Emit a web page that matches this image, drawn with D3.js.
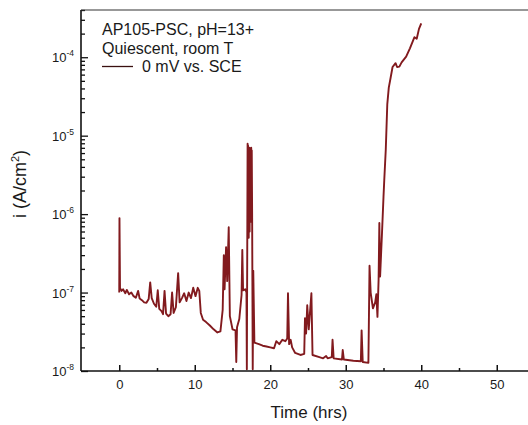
<!DOCTYPE html>
<html>
<head>
<meta charset="utf-8">
<script src="https://cdn.jsdelivr.net/npm/d3@7"></script>
<style>
  body { margin: 0; background: #fff; }
  text { font-family: "Liberation Sans", Arial, sans-serif; fill: #1a1a1a; }
</style>
</head>
<body>
<svg width="528" height="425"></svg>
<script>
const hours = [
  0, 0.03, 0.1, 0.3, 0.5, 0.8, 1.0, 1.3, 1.6, 1.9, 2.2, 2.5, 2.7, 3.0, 3.3, 3.6, 3.9, 4.1, 4.3, 4.6,
  4.9, 5.1, 5.3, 5.6, 5.8, 6.0, 6.2, 6.5, 6.8, 7.0, 7.2, 7.5, 7.8, 8.0, 8.3, 8.6, 8.9, 9.2, 9.5, 9.8,
  10.1, 10.4, 10.6, 10.8, 11.1, 11.5, 12.0, 12.5, 13.0, 13.4, 13.7, 13.85, 13.95, 14.15, 14.3, 14.5,
  14.65, 15.0, 15.4, 15.5, 15.6, 15.9, 16.2, 16.3, 16.4, 16.7, 16.85, 16.9, 17.0, 17.03, 17.06, 17.09,
  17.12, 17.15, 17.18, 17.21, 17.24, 17.27, 17.3, 17.33, 17.36, 17.39, 17.42, 17.45, 17.48, 17.51,
  17.55, 17.6, 17.68, 17.75, 17.9, 18.5, 19.0, 19.5, 20.0, 20.5,
  20.8, 21.2, 21.6, 22.0, 22.25, 22.35, 22.5, 22.7, 22.9, 23.3, 24.0, 24.5, 24.6, 24.75, 24.9, 25.1,
  25.45, 25.6, 26.5, 27.0, 27.4, 27.6, 28.15, 28.25, 28.4, 29.5, 29.6, 29.75, 31.0, 32.0, 32.1, 32.25,
  33.0, 33.15, 33.3, 33.6, 33.9, 34.05, 34.2, 34.35, 34.45, 34.55, 34.8, 35.0, 35.1, 35.3, 35.5, 35.7,
  35.9, 36.2, 36.6, 36.8, 37.1, 37.4, 38.0, 38.5, 39.1, 39.4, 39.7, 40.0
];
const current = [
  1.0e-7, 8.9e-7, 1.15e-7, 1.05e-7, 1.1e-7, 9.8e-8, 1.08e-7, 9.5e-8, 1.0e-7, 9.0e-8, 8.6e-8, 1.05e-7, 8.4e-8, 8.0e-8, 7.5e-8, 7.4e-8, 8.3e-8, 1.35e-7, 8.5e-8, 7.2e-8,
  6.6e-8, 1.07e-7, 6.2e-8, 5.8e-8, 5.3e-8, 1.05e-7, 5.4e-8, 5.0e-8, 5.3e-8, 1.0e-7, 5.5e-8, 6.5e-8, 1.77e-7, 7.5e-8, 8.5e-8, 9.8e-8, 7.8e-8, 1.0e-7, 8.5e-8, 1.15e-7,
  9.0e-8, 1.15e-7, 1.05e-7, 5.5e-8, 4.5e-8, 4.2e-8, 3.8e-8, 3.4e-8, 3.1e-8, 3.2e-8, 6.0e-8, 3.0e-7, 1.1e-7, 3.8e-7, 1.4e-7, 6.8e-7,
  5.0e-8, 3.4e-8, 3.3e-8, 1.3e-8, 3.6e-8, 4.6e-8, 9.3e-8, 3.5e-7, 1.07e-7, 1.1e-7, 1.0e-7, 1.05e-8, 7.9e-6, 6.0e-7, 7.5e-6, 9.0e-7,
  6.5e-6, 5.0e-7, 6.0e-6, 1.0e-6, 7.0e-6, 6.0e-7, 6.8e-6, 1.5e-6, 6.5e-6, 8.0e-7, 6.9e-6, 2.0e-6, 7.0e-6, 1.2e-6,
  6.5e-6, 1.0e-6, 1.05e-8, 1.9e-7, 2.3e-8, 2.2e-8, 2.1e-8, 2.05e-8, 2.0e-8, 1.95e-8,
  2.4e-8, 2.2e-8, 2.5e-8, 2.4e-8, 2.6e-8, 9.8e-8, 2.2e-8, 2.5e-8, 2.0e-8, 1.7e-8, 1.6e-8, 1.65e-8, 4.7e-8, 3.0e-8, 6.9e-8, 3.4e-8,
  9.8e-8, 1.6e-8, 1.5e-8, 1.45e-8, 1.55e-8, 1.45e-8, 1.5e-8, 2.5e-8, 1.45e-8, 1.4e-8, 1.85e-8, 1.4e-8, 1.35e-8, 1.33e-8, 3.3e-8, 1.3e-8,
  1.27e-8, 2.2e-7, 1.0e-7, 6.3e-8, 7.5e-8, 9.5e-8, 4.9e-8, 1.45e-7, 7.7e-7, 1.6e-7, 5.7e-7, 1.66e-6, 2.7e-6, 6.6e-6, 2.5e-5, 4.1e-5,
  5.2e-5, 7.5e-5, 8.4e-5, 7.5e-5, 7.6e-5, 8.6e-5, 1.02e-4, 1.3e-4, 1.8e-4, 1.72e-4, 2.3e-4, 2.7e-4
];
const xTicks = [0, 10, 20, 30, 40, 50];
const xMinorTicks = [5, 15, 25, 35, 45];
const yExponents = [-8, -7, -6, -5, -4];
const legendLines = ["AP105-PSC, pH=13+", "Quiescent, room T"];
const seriesLabel = "0 mV vs. SCE";

const svg = d3.select("svg"),
  plotLeft = 81,
  plotTop = 10,
  plotBottom = 371,
  lineColor = "#821a1e",
  x = d3.scaleLinear().domain([-5, 55]).range([81.5, 534.5]),
  y = d3.scaleLog().domain([1e-8, 4e-4]).range([plotBottom, plotTop]);

const yMinor = [];
for (const e of yExponents) {
  for (let k = 2; k <= 9; k++) {
    const v = k * Math.pow(10, e);
    if (v <= 4e-4) yMinor.push(v);
  }
}

// data line
const points = hours.map((h, i) => [h, current[i]]);
svg.append("path")
  .datum(points)
  .attr("fill", "none")
  .attr("stroke", lineColor)
  .attr("stroke-width", 1.9)
  .attr("stroke-linejoin", "round")
  .attr("d", d3.line().x((d) => x(d[0])).y((d) => y(d[1])));

// x axis, ticks point inward
const gx = svg.append("g").attr("transform", `translate(0,${plotBottom})`);
gx.call(d3.axisBottom(x).tickValues(xTicks).tickSize(-6).tickPadding(9).tickFormat(d3.format("d")));
gx.append("g").call(d3.axisBottom(x).tickValues(xMinorTicks).tickSize(-3).tickFormat(""));
gx.selectAll("text").attr("font-size", 13).attr("font-family", "Liberation Sans, Arial, sans-serif").attr("fill", "#1a1a1a");
gx.selectAll(".domain").remove();
gx.selectAll("line").attr("stroke", "#111").attr("stroke-width", 1.5);

// y axis
const gy = svg.append("g").attr("transform", `translate(${plotLeft},0)`);
gy.call(d3.axisLeft(y).tickValues(yExponents.map((e) => Math.pow(10, e))).tickSize(-7).tickFormat(""));
gy.append("g").call(d3.axisLeft(y).tickValues(yMinor).tickSize(-4).tickFormat(""));
gy.selectAll(".domain").remove();
gy.selectAll("line").attr("stroke", "#111").attr("stroke-width", 1.3);

const yl = svg.append("g")
  .selectAll("text")
  .data(yExponents)
  .enter()
  .append("text")
  .attr("x", 74)
  .attr("y", (d) => y(Math.pow(10, d)) + 5)
  .attr("text-anchor", "end")
  .attr("font-size", 13);
yl.append("tspan").text("10");
yl.append("tspan").attr("dy", -6).attr("font-size", 8.5).text((d) => `${d}`);

// frame: left, bottom, top
svg.append("line").attr("x1", plotLeft).attr("x2", plotLeft).attr("y1", plotTop).attr("y2", plotBottom)
  .attr("stroke", "#111").attr("stroke-width", 1.6);
svg.append("line").attr("x1", plotLeft).attr("x2", 528).attr("y1", plotBottom).attr("y2", plotBottom)
  .attr("stroke", "#111").attr("stroke-width", 1.6);
svg.append("line").attr("x1", plotLeft).attr("x2", 528).attr("y1", plotTop).attr("y2", plotTop)
  .attr("stroke", "#333").attr("stroke-width", 1.2);

// axis titles
svg.append("text")
  .attr("x", 309)
  .attr("y", 418)
  .attr("text-anchor", "middle")
  .attr("font-size", 17)
  .text("Time (hrs)");

const ylab = svg.append("text")
  .attr("transform", "translate(26,184) rotate(-90)")
  .attr("text-anchor", "middle")
  .attr("font-size", 18);
ylab.append("tspan").text("i (A/cm");
ylab.append("tspan").attr("dy", -7).attr("font-size", 11).text("2");
ylab.append("tspan").attr("dy", 7).text(")");

// legend
svg.append("g")
  .selectAll("text")
  .data(legendLines)
  .enter()
  .append("text")
  .attr("x", 102)
  .attr("y", (d, i) => 35 + i * 19)
  .attr("font-size", 16)
  .text((d) => d);
svg.append("line").attr("x1", 102).attr("x2", 133).attr("y1", 66.5).attr("y2", 66.5)
  .attr("stroke", "#3a1010").attr("stroke-width", 1.3);
svg.append("text").attr("x", 142).attr("y", 72).attr("font-size", 16).text(seriesLabel);
</script>
</body>
</html>
